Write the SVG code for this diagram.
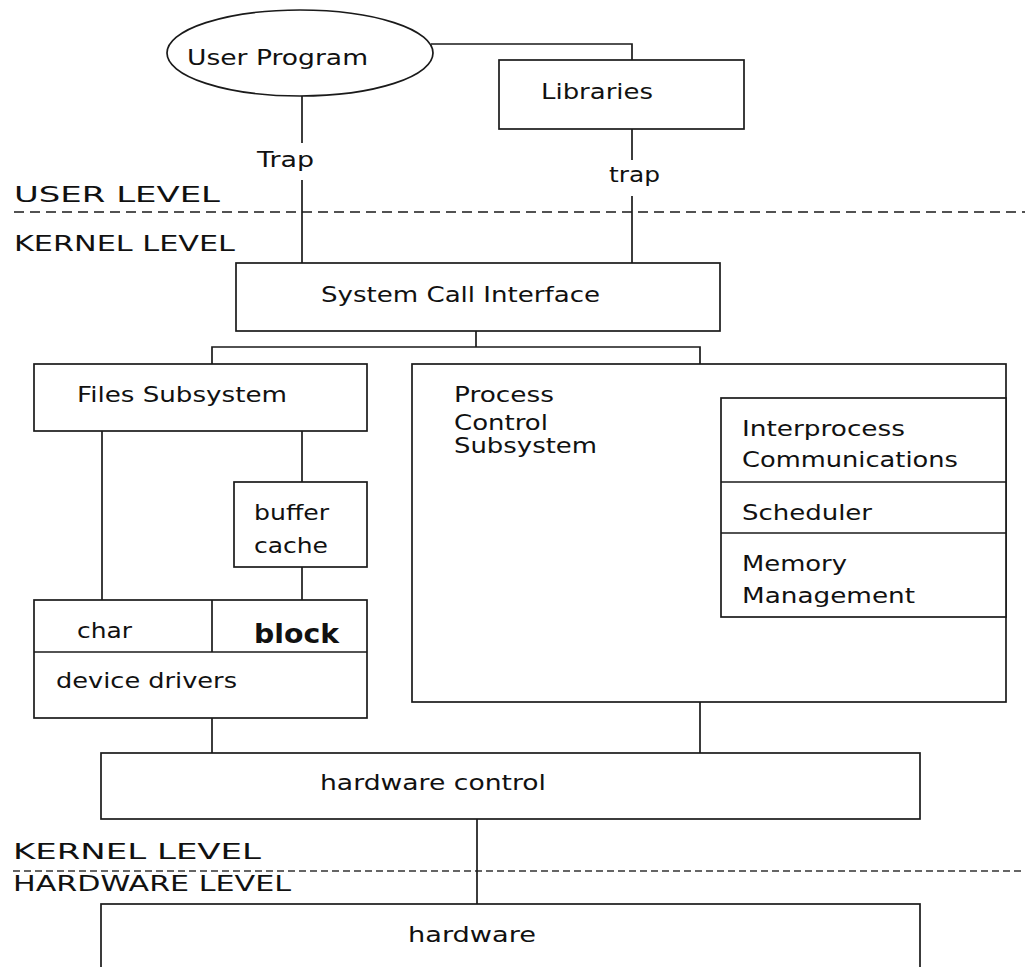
<svg xmlns="http://www.w3.org/2000/svg" width="1025" height="967" viewBox="0 0 1025 967">
<style>
.box{fill:#fff;stroke:#1a1a1a;stroke-width:1.7}
.ln{fill:none;stroke:#1a1a1a;stroke-width:1.7}
.dash1{fill:none;stroke:#1a1a1a;stroke-width:1.4;stroke-dasharray:10 6}
.dash2{fill:none;stroke:#333;stroke-width:1.3;stroke-dasharray:7 4}
text{font-family:"DejaVu Sans","Liberation Sans",sans-serif;font-size:22px;fill:#111}
.b{font-weight:bold;font-size:26px}
</style>
<rect width="1025" height="967" fill="#fff"/>
<g id="levels">
<line class="dash1" x1="14" y1="212" x2="1025" y2="212"/>
<line class="dash2" x1="13" y1="871" x2="1025" y2="871"/>
<text x="14" y="202" textLength="206" lengthAdjust="spacingAndGlyphs">USER LEVEL</text>
<text x="14" y="251" textLength="221" lengthAdjust="spacingAndGlyphs">KERNEL LEVEL</text>
<text x="13" y="859" textLength="248" lengthAdjust="spacingAndGlyphs">KERNEL LEVEL</text>
<text x="13" y="891" textLength="278" lengthAdjust="spacingAndGlyphs">HARDWARE LEVEL</text>
</g>
<g id="connectors">
<polyline class="ln" points="431,44 632,44 632,60"/>
<line class="ln" x1="302" y1="96" x2="302" y2="143"/>
<line class="ln" x1="302" y1="180" x2="302" y2="263"/>
<line class="ln" x1="632" y1="129" x2="632" y2="160"/>
<line class="ln" x1="632" y1="196" x2="632" y2="263"/>
<line class="ln" x1="476" y1="331" x2="476" y2="347"/>
<polyline class="ln" points="212,364 212,347 700,347 700,364"/>
<line class="ln" x1="102" y1="431" x2="102" y2="600"/>
<line class="ln" x1="302" y1="431" x2="302" y2="482"/>
<line class="ln" x1="302" y1="567" x2="302" y2="600"/>
<line class="ln" x1="212" y1="718" x2="212" y2="753"/>
<line class="ln" x1="700" y1="702" x2="700" y2="753"/>
<line class="ln" x1="477" y1="819" x2="477" y2="904"/>
<text x="257" y="167" textLength="57" lengthAdjust="spacingAndGlyphs">Trap</text>
<text x="609" y="182" textLength="51" lengthAdjust="spacingAndGlyphs">trap</text>
</g>
<g id="user-program">
<ellipse class="box" cx="300" cy="53" rx="133" ry="43"/>
<text x="187" y="65" textLength="181" lengthAdjust="spacingAndGlyphs">User Program</text>
</g>
<g id="libraries">
<rect class="box" x="499" y="60" width="245" height="69"/>
<text x="541" y="99" textLength="112" lengthAdjust="spacingAndGlyphs">Libraries</text>
</g>
<g id="system-call-interface">
<rect class="box" x="236" y="263" width="484" height="68"/>
<text x="321" y="302" textLength="279" lengthAdjust="spacingAndGlyphs">System Call Interface</text>
</g>
<g id="files-subsystem">
<rect class="box" x="34" y="364" width="333" height="67"/>
<text x="77" y="402" textLength="210" lengthAdjust="spacingAndGlyphs">Files Subsystem</text>
</g>
<g id="buffer-cache">
<rect class="box" x="234" y="482" width="133" height="85"/>
<text x="254" y="520" textLength="75" lengthAdjust="spacingAndGlyphs">buffer</text>
<text x="254" y="553" textLength="74" lengthAdjust="spacingAndGlyphs">cache</text>
</g>
<g id="device-drivers">
<rect class="box" x="34" y="600" width="333" height="118"/>
<line class="ln" x1="34" y1="652" x2="367" y2="652"/>
<line class="ln" x1="212" y1="600" x2="212" y2="652"/>
<text x="77" y="638" textLength="55" lengthAdjust="spacingAndGlyphs">char</text>
<text class="b" x="254" y="643" textLength="85" lengthAdjust="spacingAndGlyphs">block</text>
<text x="56" y="688" textLength="181" lengthAdjust="spacingAndGlyphs">device drivers</text>
</g>
<g id="process-control">
<rect class="box" x="412" y="364" width="594" height="338"/>
<text x="454" y="402" textLength="100" lengthAdjust="spacingAndGlyphs">Process</text>
<text x="454" y="430" textLength="94" lengthAdjust="spacingAndGlyphs">Control</text>
<text x="454" y="453" textLength="143" lengthAdjust="spacingAndGlyphs">Subsystem</text>
</g>
<g id="process-modules">
<rect class="box" x="721" y="398" width="285" height="219"/>
<line class="ln" x1="721" y1="482" x2="1006" y2="482"/>
<line class="ln" x1="721" y1="533" x2="1006" y2="533"/>
<text x="742" y="436" textLength="163" lengthAdjust="spacingAndGlyphs">Interprocess</text>
<text x="742" y="467" textLength="216" lengthAdjust="spacingAndGlyphs">Communications</text>
<text x="742" y="520" textLength="130" lengthAdjust="spacingAndGlyphs">Scheduler</text>
<text x="742" y="571" textLength="105" lengthAdjust="spacingAndGlyphs">Memory</text>
<text x="742" y="603" textLength="173" lengthAdjust="spacingAndGlyphs">Management</text>
</g>
<g id="hardware-control">
<rect class="box" x="101" y="753" width="819" height="66"/>
<text x="320" y="790" textLength="226" lengthAdjust="spacingAndGlyphs">hardware control</text>
</g>
<g id="hardware">
<rect class="box" x="101" y="904" width="819" height="100"/>
<text x="408" y="942" textLength="128" lengthAdjust="spacingAndGlyphs">hardware</text>
</g>
</svg>
